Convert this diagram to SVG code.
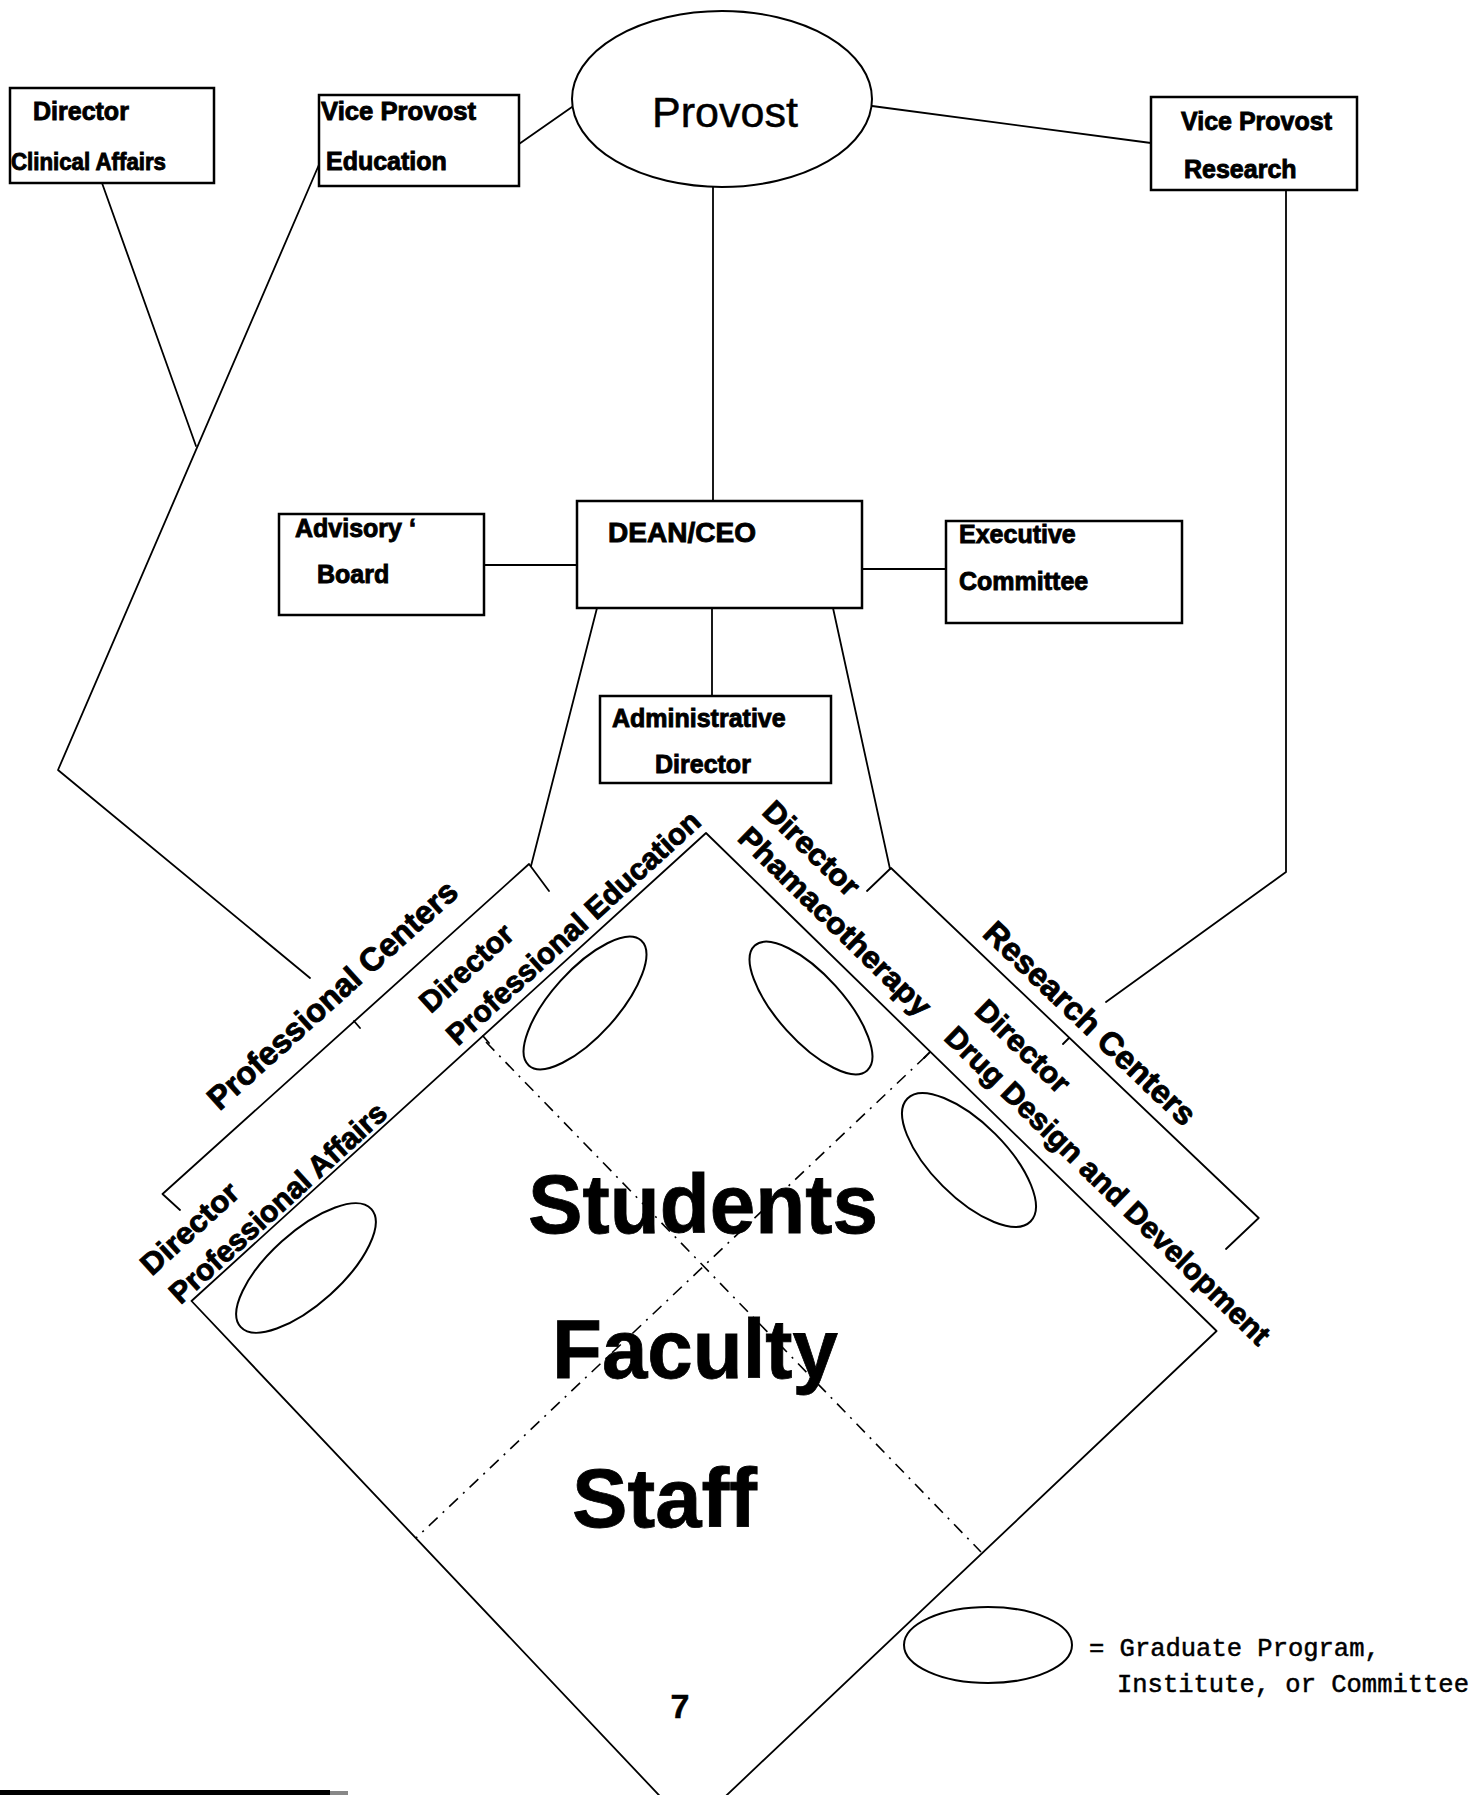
<svg xmlns="http://www.w3.org/2000/svg" width="1480" height="1795" viewBox="0 0 1480 1795">
<style>
.bx{fill:#fff;stroke:#000;stroke-width:2.5}
.ln{fill:none;stroke:#000;stroke-width:1.8;stroke-linecap:round;stroke-linejoin:round}
.dl{fill:none;stroke:#000;stroke-width:1.6;stroke-dasharray:12 7 2 7}
.ov{fill:none;stroke:#000;stroke-width:2}
.t{font-family:"Liberation Sans",Arial,sans-serif;font-weight:bold;font-size:25px;fill:#000;stroke:#000;stroke-width:0.9}
.r{font-size:30px;text-anchor:middle}
.c{font-size:32.5px;text-anchor:middle}
.big{font-size:84px;stroke-width:0.8}
.mono{font-family:"Liberation Mono","Courier New",monospace;font-size:25.5px;fill:#000;stroke:#000;stroke-width:0.5}
</style>
<rect x="0" y="0" width="1480" height="1795" fill="#fff"/>

<g id="connectors">
  <line class="ln" x1="519" y1="144" x2="572" y2="107"/>
  <line class="ln" x1="872" y1="106" x2="1151" y2="143"/>
  <line class="ln" x1="713" y1="187" x2="713" y2="501"/>
  <line class="ln" x1="484" y1="565" x2="577" y2="565"/>
  <line class="ln" x1="862" y1="569" x2="946" y2="569"/>
  <line class="ln" x1="712" y1="608" x2="712" y2="696"/>
  <line class="ln" x1="597" y1="608" x2="531" y2="866"/>
  <line class="ln" x1="833" y1="608" x2="890" y2="869"/>
  <line class="ln" x1="102" y1="183" x2="196" y2="446"/>
  <polyline class="ln" points="321,160 58,770 310,978"/>
  <polyline class="ln" points="1286,190 1286,872 1106,1002"/>
</g>

<g id="provost">
  <ellipse class="ov" cx="722" cy="99" rx="150" ry="88" stroke-width="2.5"/>
  <text x="725" y="127" font-family="Liberation Sans, Arial, sans-serif" font-size="43" text-anchor="middle" fill="#000" stroke="#000" stroke-width="0.5">Provost</text>
</g>
<g id="dir-clinical">
  <rect class="bx" x="10" y="88" width="204" height="95"/>
  <text class="t" x="33" y="120">Director</text>
  <text class="t" x="11" y="170" style="font-size:23px" textLength="155" lengthAdjust="spacingAndGlyphs">Clinical Affairs</text>
</g>
<g id="vp-education">
  <rect class="bx" x="319" y="95" width="200" height="91"/>
  <text class="t" x="321" y="120" textLength="155" lengthAdjust="spacingAndGlyphs">Vice Provost</text>
  <text class="t" x="326" y="170">Education</text>
</g>
<g id="vp-research">
  <rect class="bx" x="1151" y="97" width="206" height="93"/>
  <text class="t" x="1181" y="130" textLength="151" lengthAdjust="spacingAndGlyphs">Vice Provost</text>
  <text class="t" x="1184" y="178">Research</text>
</g>
<g id="dean">
  <rect class="bx" x="577" y="501" width="285" height="107"/>
  <text class="t" x="608" y="542" style="font-size:28px" textLength="148" lengthAdjust="spacingAndGlyphs">DEAN/CEO</text>
</g>
<g id="advisory">
  <rect class="bx" x="279" y="514" width="205" height="101"/>
  <text class="t" x="295" y="537">Advisory ‘</text>
  <text class="t" x="317" y="583">Board</text>
</g>
<g id="executive">
  <rect class="bx" x="946" y="521" width="236" height="102"/>
  <text class="t" x="959" y="543">Executive</text>
  <text class="t" x="959" y="590">Committee</text>
</g>
<g id="admin">
  <rect class="bx" x="600" y="696" width="231" height="87"/>
  <text class="t" x="612" y="727">Administrative</text>
  <text class="t" x="655" y="773">Director</text>
</g>

<g id="diamond">
  <path class="ln" d="M706 833 L191.5 1301 L691 1829 L1216.6 1331 Z"/>
  <path class="ln" d="M483 1036 L489 1043 M930 1052 L924 1058"/>
  <path class="dl" d="M486 1042 L981 1552"/>
  <path class="dl" d="M926 1056 L416 1538"/>
  <text class="t big" x="528" y="1233" textLength="350" lengthAdjust="spacingAndGlyphs">Students</text>
  <text class="t big" x="552" y="1378" textLength="286" lengthAdjust="spacingAndGlyphs">Faculty</text>
  <text class="t big" x="572" y="1527" textLength="185" lengthAdjust="spacingAndGlyphs">Staff</text>
</g>

<g id="professional-centers">
  <path class="ln" d="M549 891 L529 864 L162.5 1194 L180 1210 M354 1021 L360 1028"/>
  <text class="t c" transform="translate(332 994.5) rotate(-42)" dy="0.36em" textLength="324" lengthAdjust="spacingAndGlyphs">Professional Centers</text>
</g>
<g id="dir-prof-education">
  <text class="t r" transform="translate(466 967.5) rotate(-42.3)" dy="0.36em" textLength="115" lengthAdjust="spacingAndGlyphs">Director</text>
  <text class="t r" transform="translate(573 927.4) rotate(-42.3)" dy="0.36em" textLength="331" lengthAdjust="spacingAndGlyphs">Professional Education</text>
  <ellipse class="ov" cx="585" cy="1003" rx="84" ry="33" transform="rotate(-48 585 1003)"/>
</g>
<g id="dir-prof-affairs">
  <text class="t r" transform="translate(189.3 1228) rotate(-42.3)" dy="0.36em" textLength="121" lengthAdjust="spacingAndGlyphs">Director</text>
  <text class="t r" transform="translate(277.4 1202.4) rotate(-42.3)" dy="0.36em" textLength="282" lengthAdjust="spacingAndGlyphs">Professional Affairs</text>
  <ellipse class="ov" cx="306" cy="1268" rx="88" ry="36" transform="rotate(-42 306 1268)"/>
</g>
<g id="research-centers">
  <path class="ln" d="M867 891 L891 868 L1258.7 1218 L1226 1249 M1069 1038 L1063 1044"/>
  <text class="t c" transform="translate(1090.4 1023) rotate(43.6)" dy="0.36em" textLength="279" lengthAdjust="spacingAndGlyphs">Research Centers</text>
</g>
<g id="dir-pharmacotherapy">
  <text class="t r" transform="translate(812 848) rotate(44.3)" dy="0.36em" textLength="122" lengthAdjust="spacingAndGlyphs">Director</text>
  <text class="t r" transform="translate(833 923.5) rotate(44.3)" dy="0.25em" textLength="256" lengthAdjust="spacingAndGlyphs">Phamacotherapy</text>
  <ellipse class="ov" cx="811" cy="1008" rx="84" ry="33" transform="rotate(48 811 1008)"/>
</g>
<g id="dir-drug-design">
  <text class="t r" transform="translate(1023.4 1046) rotate(44.3)" dy="0.36em" textLength="119" lengthAdjust="spacingAndGlyphs">Director</text>
  <text class="t r" transform="translate(1105.7 1187.6) rotate(44.3)" dy="0.25em" textLength="441" lengthAdjust="spacingAndGlyphs">Drug Design and Development</text>
  <ellipse class="ov" cx="969" cy="1160" rx="87" ry="37" transform="rotate(45 969 1160)"/>
</g>

<g id="legend">
  <ellipse class="ov" cx="988" cy="1645" rx="84" ry="38"/>
  <text class="mono" x="1089" y="1656">= Graduate Program,</text>
  <text class="mono" x="1117" y="1692">Institute, or Committee</text>
</g>

<text class="t" x="680" y="1718" style="font-size:34px;stroke-width:0.5" text-anchor="middle">7</text>
<rect x="0" y="1790" width="330" height="5" fill="#000"/>
<rect x="330" y="1791" width="18" height="4" fill="#888"/>
</svg>
